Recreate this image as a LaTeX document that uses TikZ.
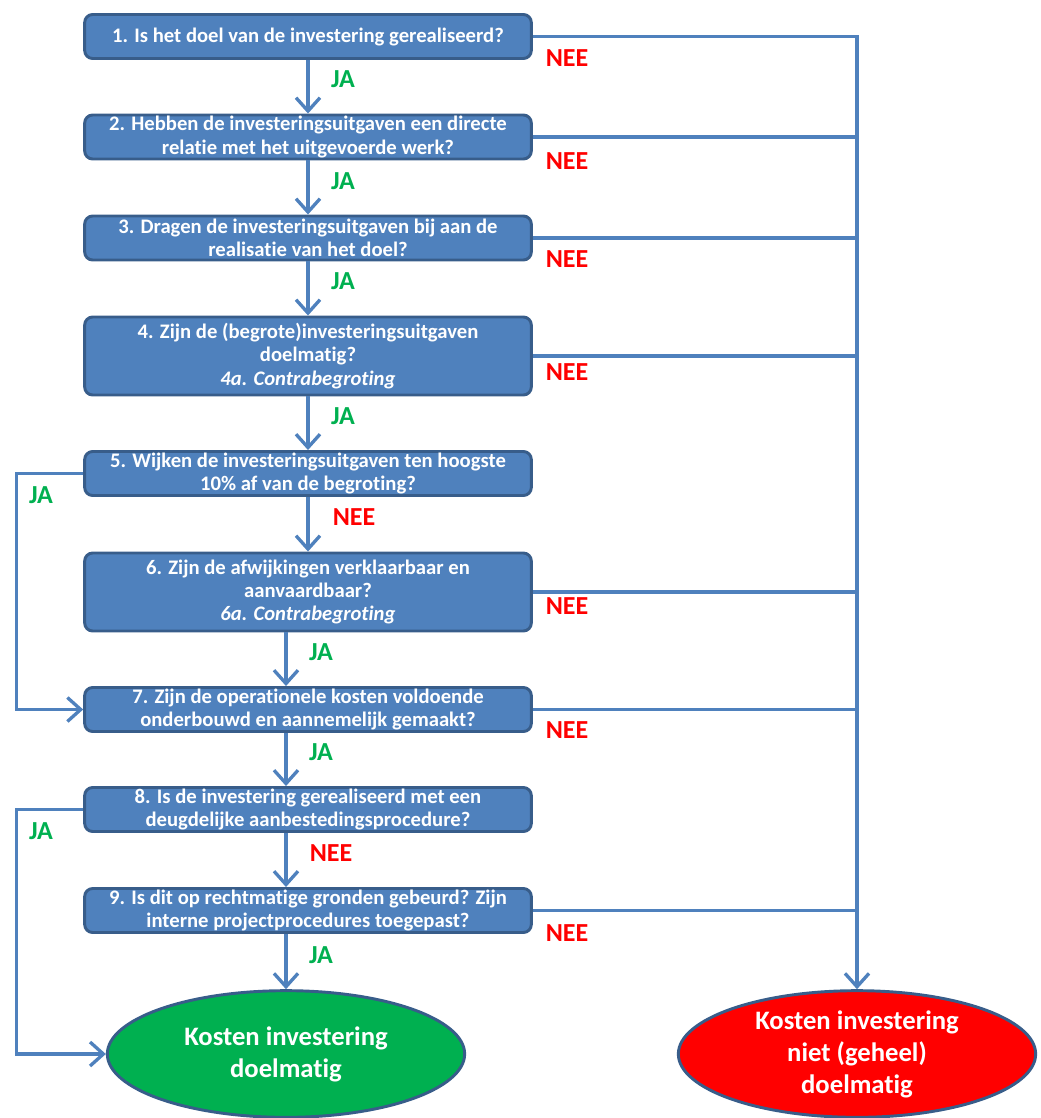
\documentclass[tikz,border=0pt]{standalone}
\usepackage{fontspec}
\setmainfont{Carlito}[RawFeature={-liga;-calt;-clig;-dlig}]
\usetikzlibrary{arrows.meta,shapes.geometric}

\definecolor{boxblue}{RGB}{79,129,189}
\definecolor{boxedge}{RGB}{56,93,138}
\definecolor{jagreen}{RGB}{0,176,80}
\definecolor{neered}{RGB}{255,0,0}

\begin{document}
\begin{tikzpicture}[
        x=0.75pt, y=-0.75pt,
        q/.style={draw=boxedge,fill=boxblue,line width=2.2pt,rectangle,rounded corners=6pt,
            minimum width=335pt,minimum height=33pt,inner sep=1pt,align=center,text=white,
            font=\bfseries\fontsize{15.5}{17.5}\selectfont},
        qq/.style={q,minimum height=58.5pt},
        res/.style={draw=boxedge,line width=2.2pt,ellipse,minimum width=268pt,minimum height=95pt,
            inner sep=0pt,align=center,text=white,font=\bfseries\fontsize{20}{24}\selectfont},
        ja/.style={text=jagreen,font=\bfseries\fontsize{19.5}{22}\selectfont,inner sep=0pt},
        nee/.style={ja,text=neered},
        flow/.style={draw=boxblue,line width=2.5pt},
        arr/.style={flow,-{Straight Barb[length=10pt,width=18pt,line width=2.5pt]}}
    ]

    \useasboundingbox (0,0) rectangle (1040,1118);

    % questions
    \node[q] (b1) at (308,36.5) {1. Is het doel van de investering gerealiseerd?};
    \node[q] (b2) at (308,137) {2. Hebben de investeringsuitgaven een directe\\relatie met het uitgevoerde werk?};
    \node[q] (b3) at (308,238) {3. Dragen de investeringsuitgaven bij aan de\\realisatie van het doel?};
    \node[qq] (b4) at (308,356) {4. Zijn de (begrote)investeringsuitgaven\\doelmatig?\\\textit{4a. Contrabegroting}};
    \node[q] (b5) at (308,473.5) {5. Wijken de investeringsuitgaven ten hoogste\\10\% af van de begroting?};
    \node[qq] (b6) at (308,592) {6. Zijn de afwijkingen verklaarbaar en\\aanvaardbaar?\\\textit{6a. Contrabegroting}};
    \node[q] (b7) at (308,709.5) {7. Zijn de operationele kosten voldoende\\onderbouwd en aannemelijk gemaakt?};
    \node[q] (b8) at (308,809.5) {8. Is de investering gerealiseerd met een\\deugdelijke aanbestedingsprocedure?};
    \node[q] (b9) at (308,910.5) {9. Is dit op rechtmatige gronden gebeurd? Zijn\\interne projectprocedures toegepast?};

    % outcomes
    \node[res,fill=jagreen] (ok) at (286,1054) {Kosten investering\\doelmatig};
    \node[res,fill=neered] (notok) at (857,1054) {Kosten investering\\niet (geheel)\\doelmatig};

    % main flow
    \draw[arr] (b1) -- (b2);
    \draw[arr] (b2) -- (b3);
    \draw[arr] (b3) -- (b4);
    \draw[arr] (b4) -- (b5);
    \draw[arr] (b5) -- (b6);
    \draw[arr] (b6.south -| ok) -- (b7.north -| ok);
    \draw[arr] (b7.south -| ok) -- (b8.north -| ok);
    \draw[arr] (b8.south -| ok) -- (b9.north -| ok);
    \draw[arr] (b9.south -| ok) -- (ok);

    % shortcuts
    \draw[arr] (b5.west) -- ++(-67,0) |- (b7.west);
    \draw[arr] (b8.west) -- ++(-67,0) |- (ok.west);

    % rejections
    \draw[arr] (b1.east) -| (notok.north);
    \foreach \b in {b2,b3,b4,b6,b7,b9}
        \draw[flow] (\b.east) -- (\b.east -| notok.north);

    % labels
    \node[ja] (ja1) at (343,79) {JA};
    \node[ja] (ja2) at (343,181) {JA};
    \node[ja] (ja3) at (343,281) {JA};
    \node[ja] (ja4) at (343,416) {JA};
    \node[nee] (nee5) at (354,517) {NEE};
    \node[ja] (ja6) at (321,652) {JA};
    \node[ja] (ja7) at (321,752) {JA};
    \node[nee] (nee8) at (331,853) {NEE};
    \node[ja] (ja9) at (321,955) {JA};
    \node[ja] (ja5l) at (41,495) {JA};
    \node[ja] (ja8l) at (41,831) {JA};
    \node[nee] (n1) at (567,58) {NEE};
    \node[nee] (n2) at (567,161) {NEE};
    \node[nee] (n3) at (567,259) {NEE};
    \node[nee] (n4) at (567,372) {NEE};
    \node[nee] (n6) at (567,606) {NEE};
    \node[nee] (n7) at (567,730) {NEE};
    \node[nee] (n9) at (567,933) {NEE};

\end{tikzpicture}
\end{document}
